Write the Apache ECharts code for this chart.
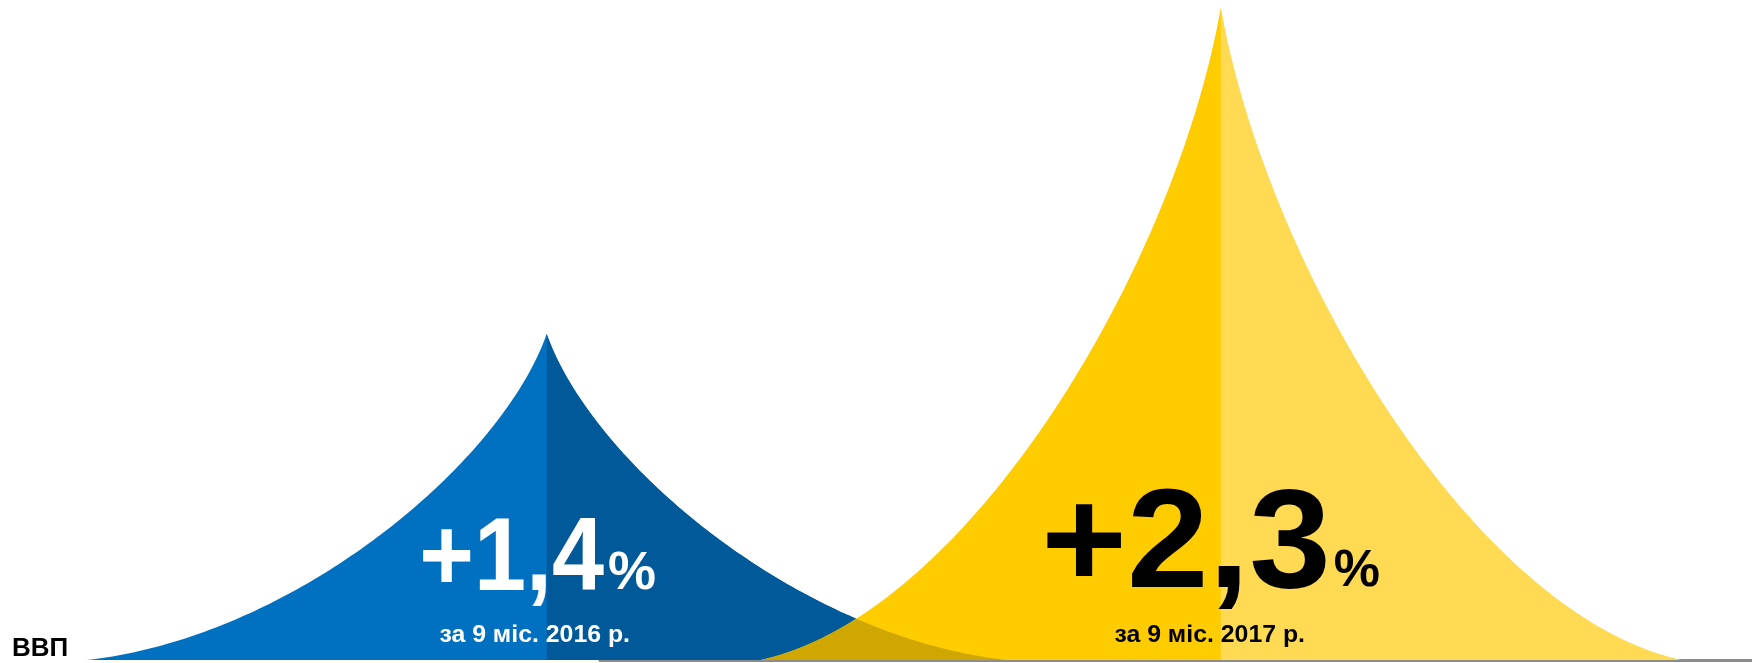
<!DOCTYPE html>
<html>
<head>
<meta charset="utf-8">
<style>
  html, body { margin: 0; padding: 0; background: #fff; }
  #chart { width: 1752px; height: 663px; }
</style>
<script src="https://cdn.jsdelivr.net/npm/echarts@6/dist/echarts.min.js"></script>
</head>
<body>
<div id="chart"></div>
<script>
// data
const periods     = ['9 міс. 2016', '9 міс. 2017'];
const gdpGrowth   = [1.4, 2.3];
const valueLabels = ['+1,4', '+2,3'];
const subLabels   = ['за 9 міс. 2016 р.', 'за 9 міс. 2017 р.'];
const axisTitle   = 'ВВП';

// styles
const hillColors = [
  { left: '#0070C0', right: '#005A9A', text: '#FFFFFF' },
  { left: '#FFCC00', right: '#FFDA52', text: '#000000' }
];
const overlapColor = '#CFA700';
const fontFamily   = '"Liberation Sans", Arial, sans-serif';
const labelStyle = [
  { big: 104, pct: 54, sub: 23, scaleX: 0.9, subScaleX: 1.08, gap: 4, mainShift: -9, subShift: -12, mainLift: 71, subLift: 18 },
  { big: 141, pct: 52, sub: 23, scaleX: 1.04, subScaleX: 1.08, gap: 3, mainShift: -10, subShift: -11, mainLift: 74, subLift: 18 }
];
const halfWidthBands = 0.6825;   // half of a hill's foot, in category bands
const Y_MIN = 0.5, Y_MAX = 2.3;
const MID = 0.27;                // text 'middle' sits this far (em) above the baseline

// concave hill edge: cubic bezier from the peak (0,0) to the foot (1,1), in (width, depth) units
const CTRL = [[0, 0], [0.1, 0.4], [0.55, 0.93], [1, 1]];
function bezier(t) {
  const u = 1 - t;
  const k = [u * u * u, 3 * t * u * u, 3 * t * t * u, t * t * t];
  return [0, 1].map(j => k[0] * CTRL[0][j] + k[1] * CTRL[1][j] + k[2] * CTRL[2][j] + k[3] * CTRL[3][j]);
}
const EDGE = [];
for (let i = 0; i <= 120; i++) EDGE.push(bezier(i / 120));

function depthAt(w) {
  if (w <= 0) return 0;
  if (w >= 1) return 1;
  for (let i = 1; i < EDGE.length; i++) {
    const a = EDGE[i - 1], b = EDGE[i];
    if (w <= b[0]) {
      const f = (w - a[0]) / (b[0] - a[0] || 1);
      return a[1] + f * (b[1] - a[1]);
    }
  }
  return 1;
}

function hillGeom(api, idx, value) {
  const peak = api.coord([idx, value]);
  const foot = api.coord([idx, Y_MIN]);
  return { cx: peak[0], top: peak[1], base: foot[1], W: api.size([1, 0])[0] * halfWidthBands };
}

function edgePoints(g, dir) {
  return EDGE.map(([w, d]) => [g.cx + dir * w * g.W, g.top + d * (g.base - g.top)]);
}

function renderHill(params, api) {
  const i = params.dataIndex;
  const g = hillGeom(api, api.value(0), api.value(1));
  const whole = edgePoints(g, -1).reverse().concat(edgePoints(g, 1));
  const rightHalf = edgePoints(g, 1).concat([[g.cx, g.base]]);
  return {
    type: 'group',
    children: [
      { type: 'polygon', shape: { points: whole }, style: { fill: hillColors[i].left } },
      { type: 'polygon', shape: { points: rightHalf }, style: { fill: hillColors[i].right } }
    ]
  };
}

// where the right half of one hill runs under the left half of the next
function renderOverlap(params, api) {
  const i = params.dataIndex;
  if (i + 1 >= gdpGrowth.length) return null;
  const a = hillGeom(api, i, gdpGrowth[i]);
  const b = hillGeom(api, i + 1, gdpGrowth[i + 1]);
  const xs = b.cx - b.W, xe = a.cx + a.W;
  if (xe <= xs) return null;
  const pts = [];
  const n = 100;
  for (let k = 0; k <= n; k++) {
    const x = xs + (xe - xs) * k / n;
    const ha = (1 - depthAt((x - a.cx) / a.W)) * (a.base - a.top);
    const hb = (1 - depthAt((b.cx - x) / b.W)) * (b.base - b.top);
    pts.push([x, a.base - Math.min(ha, hb)]);
  }
  pts.push([xe, a.base], [xs, a.base]);
  return { type: 'polygon', shape: { points: pts }, style: { fill: overlapColor } };
}

const measureCtx = document.createElement('canvas').getContext('2d');
function textWidth(text, font) {
  measureCtx.font = font;
  return measureCtx.measureText(text).width;
}

function textEl(x, y, text, font, fill, align, scaleX) {
  return {
    type: 'text', x: x, y: y, scaleX: scaleX || 1,
    style: {
      text: text, font: font, fill: fill,
      align: align, textAlign: align,
      verticalAlign: 'middle', textVerticalAlign: 'middle'
    }
  };
}

function renderLabel(params, api) {
  const i = params.dataIndex;
  const s = labelStyle[i];
  const g = hillGeom(api, api.value(0), api.value(1));
  const color = hillColors[i].text;
  const bigFont = `bold ${s.big}px ${fontFamily}`;
  const pctFont = `bold ${s.pct}px ${fontFamily}`;
  const subFont = `bold ${s.sub}px ${fontFamily}`;
  const bigW = textWidth(valueLabels[i], bigFont) * s.scaleX;
  const pctW = textWidth('%', pctFont);
  const left = g.cx + s.mainShift - (bigW + s.gap + pctW) / 2;
  const mainBase = g.base - s.mainLift;
  const subBase = g.base - s.subLift;
  return {
    type: 'group',
    children: [
      textEl(left, mainBase - MID * s.big, valueLabels[i], bigFont, color, 'left', s.scaleX),
      textEl(left + bigW + s.gap, mainBase - MID * s.pct, '%', pctFont, color, 'left'),
      textEl(g.cx + s.subShift, subBase - MID * s.sub, subLabels[i], subFont, color, 'center', s.subScaleX)
    ]
  };
}

const seriesData = gdpGrowth.map((v, i) => [i, v]);

const chart = echarts.init(document.getElementById('chart'));
chart.setOption({
  backgroundColor: '#ffffff',
  animation: false,
  title: {
    text: axisTitle,
    left: 12,
    top: 636,
    padding: 0,
    textStyle: { fontFamily: fontFamily, fontSize: 26, fontWeight: 'bold', color: '#000' }
  },
  grid: [
    { left: 209.7, right: 194.3, top: 8, bottom: 3 },
    // thin strip that only carries the grey base line
    { left: 600, right: 0, bottom: 3, height: 1 }
  ],
  xAxis: [
    {
      type: 'category',
      data: periods,
      axisLine: { show: false },
      axisTick: { show: false },
      axisLabel: { show: false },
      splitLine: { show: false }
    },
    {
      type: 'value',
      gridIndex: 1,
      min: 0,
      max: 1,
      axisLine: { show: true, lineStyle: { color: '#8c8c8c', width: 3 } },
      axisTick: { show: false },
      axisLabel: { show: false },
      splitLine: { show: false }
    }
  ],
  yAxis: [
    { type: 'value', min: Y_MIN, max: Y_MAX, show: false, splitLine: { show: false } },
    { type: 'value', gridIndex: 1, min: 0, max: 1, show: false, splitLine: { show: false } }
  ],
  series: [
    { type: 'custom', z: 2, data: seriesData, encode: { x: 0, y: 1 }, renderItem: renderHill, silent: true },
    { type: 'custom', z: 3, data: seriesData, encode: { x: 0, y: 1 }, renderItem: renderOverlap, silent: true },
    { type: 'custom', z: 4, data: seriesData, encode: { x: 0, y: 1 }, renderItem: renderLabel, silent: true }
  ]
});
</script>
</body>
</html>
